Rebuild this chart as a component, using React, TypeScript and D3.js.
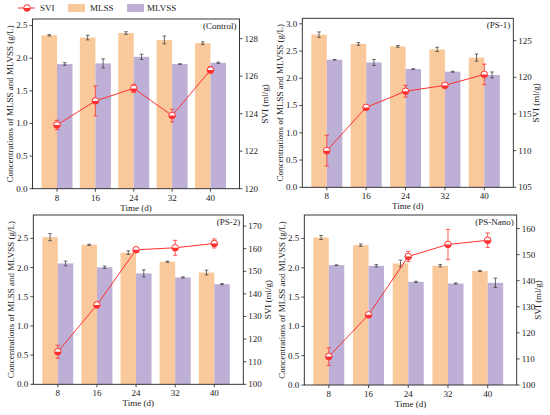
import React from 'react';
import * as d3 from 'd3';

const days = ['8', '16', '24', '32', '40'];

// Control
const mlssControl = [2.35, 2.315, 2.385, 2.28, 2.23];
const mlssControlErr = [0.01, 0.035, 0.02, 0.06, 0.02];
const mlvssControl = [1.91, 1.92, 2.02, 1.91, 1.93];
const mlvssControlErr = [0.02, 0.07, 0.04, 0.005, 0.01];
const sviControl = [123.4, 124.68, 125.35, 123.9, 126.33];
const sviControlErr = [0.25, 0.8, 0.22, 0.34, 0.18];

// PS-1
const mlssPs1 = [2.8, 2.63, 2.585, 2.53, 2.38];
const mlssPs1Err = [0.05, 0.025, 0.015, 0.04, 0.065];
const mlvssPs1 = [2.34, 2.29, 2.17, 2.12, 2.06];
const mlvssPs1Err = [0.005, 0.055, 0.005, 0.008, 0.055];
const sviPs1 = [110.0, 115.9, 118.1, 118.9, 120.4];
const sviPs1Err = [2.1, 0.2, 0.8, 0.3, 1.4];

// PS-2
const mlssPs2 = [2.52, 2.39, 2.255, 2.1, 1.915];
const mlssPs2Err = [0.06, 0.01, 0.03, 0.01, 0.04];
const mlvssPs2 = [2.07, 2.005, 1.9, 1.83, 1.715];
const mlvssPs2Err = [0.04, 0.02, 0.06, 0.01, 0.01];
const sviPs2 = [114.4, 135.1, 159.5, 160.4, 162.3];
const sviPs2Err = [2.9, 1.2, 0.5, 3.3, 2.0];

// PS-Nano
const mlssNano = [2.517, 2.386, 2.073, 2.035, 1.945];
const mlssNanoErr = [0.035, 0.02, 0.057, 0.02, 0.01];
const mlvssNano = [2.044, 2.033, 1.76, 1.731, 1.743];
const mlvssNanoErr = [0.005, 0.02, 0.01, 0.01, 0.08];
const sviNano = [110.9, 126.9, 149.3, 153.9, 155.5];
const sviNanoErr = [3.4, 0.5, 2.0, 5.8, 2.8];

const leftTicks1 = [0, 0.5, 1.0, 1.5, 2.0, 2.5];
const leftTicks2 = [0, 0.5, 1.0, 1.5, 2.0, 2.5, 3.0];
const rightTicksControl = [120, 122, 124, 126, 128];
const rightTicksPs1 = [105, 110, 115, 120, 125];
const rightTicksPs2 = [100, 110, 120, 130, 140, 150, 160, 170];
const rightTicksNano = [100, 110, 120, 130, 140, 150, 160];

const MLSS_COLOR = '#F9C99B';
const MLVSS_COLOR = '#BEAFD6';
const SVI_COLOR = '#FF3030';
const FONT = '"Liberation Serif", "Times New Roman", serif';

interface Panel {
  name: string;
  box: { left: number; right: number; top: number; bottom: number };
  leftDomain: [number, number];
  rightDomain: [number, number];
  leftTicks: number[];
  rightTicks: number[];
  mlss: number[]; mlssErr: number[];
  mlvss: number[]; mlvssErr: number[];
  svi: number[]; sviErr: number[];
  rightLabelOffset: number;
}

const panels: Panel[] = [
  {
    name: '(Control)', box: { left: 32.5, right: 239.5, top: 19, bottom: 188.7 },
    leftDomain: [0, 2.6], rightDomain: [120, 129.05], leftTicks: leftTicks1, rightTicks: rightTicksControl,
    mlss: mlssControl, mlssErr: mlssControlErr, mlvss: mlvssControl, mlvssErr: mlvssControlErr,
    svi: sviControl, sviErr: sviControlErr, rightLabelOffset: 26,
  },
  {
    name: '(PS-1)', box: { left: 302.3, right: 513.3, top: 18.3, bottom: 187.3 },
    leftDomain: [0, 3.1], rightDomain: [105, 128.05], leftTicks: leftTicks2, rightTicks: rightTicksPs1,
    mlss: mlssPs1, mlssErr: mlssPs1Err, mlvss: mlvssPs1, mlvssErr: mlvssPs1Err,
    svi: sviPs1, sviErr: sviPs1Err, rightLabelOffset: 23,
  },
  {
    name: '(PS-2)', box: { left: 33.3, right: 243.3, top: 215, bottom: 384.3 },
    leftDomain: [0, 2.9], rightDomain: [100, 174.9], leftTicks: leftTicks1, rightTicks: rightTicksPs2,
    mlss: mlssPs2, mlssErr: mlssPs2Err, mlvss: mlvssPs2, mlvssErr: mlvssPs2Err,
    svi: sviPs2, sviErr: sviPs2Err, rightLabelOffset: 25,
  },
  {
    name: '(PS-Nano)', box: { left: 304.3, right: 516.7, top: 215, bottom: 385 },
    leftDomain: [0, 2.9], rightDomain: [100, 165.2], leftTicks: leftTicks1, rightTicks: rightTicksNano,
    mlss: mlssNano, mlssErr: mlssNanoErr, mlvss: mlvssNano, mlvssErr: mlvssNanoErr,
    svi: sviNano, sviErr: sviNanoErr, rightLabelOffset: 21,
  },
];

const BAR_W = 15.5;

const Marker: React.FC<{ x: number; y: number; r?: number }> = ({ x, y, r = 3.3 }) => (
  <g transform={`translate(${x},${y})`}>
    <circle r={r} fill="#fff" stroke={SVI_COLOR} strokeWidth={1} />
    <path d={`M${-r},0 A${r},${r} 0 0 0 ${r},0 Z`} fill={SVI_COLOR} />
  </g>
);

const ChartPanel: React.FC<{ p: Panel }> = ({ p }) => {
  const { left, right, top, bottom } = p.box;
  const x = d3.scalePoint<string>().domain(days).range([left + 24.5, right - 29]);
  const sub = d3.scaleBand<string>().domain(['MLSS', 'MLVSS']).range([-BAR_W, BAR_W]);
  const yL = d3.scaleLinear().domain(p.leftDomain).range([bottom, top]);
  const yR = d3.scaleLinear().domain(p.rightDomain).range([bottom, top]);
  const line = d3.line<number>()
    .x((_, i) => x(days[i])!)
    .y(d => yR(d));
  const fmtL = d3.format('.1f');
  const midY = (top + bottom) / 2;

  const errBar = (cx: number, v: number, e: number, y: d3.ScaleLinear<number, number>, color: string, cap: number, key: string) => (
    <g key={key} stroke={color} strokeWidth={0.8}>
      <line x1={cx} x2={cx} y1={y(v - e)} y2={y(v + e)} />
      <line x1={cx - cap} x2={cx + cap} y1={y(v - e)} y2={y(v - e)} />
      <line x1={cx - cap} x2={cx + cap} y1={y(v + e)} y2={y(v + e)} />
    </g>
  );

  return (
    <g>
      {days.map((d, i) => (
        <g key={d}>
          <rect x={x(d)! + sub('MLSS')!} width={sub.bandwidth()} y={yL(p.mlss[i])} height={bottom - yL(p.mlss[i])} fill={MLSS_COLOR} />
          <rect x={x(d)! + sub('MLVSS')!} width={sub.bandwidth()} y={yL(p.mlvss[i])} height={bottom - yL(p.mlvss[i])} fill={MLVSS_COLOR} />
          {errBar(x(d)! + sub('MLSS')! + sub.bandwidth() / 2, p.mlss[i], p.mlssErr[i], yL, '#444', 1.8, 'a')}
          {errBar(x(d)! + sub('MLVSS')! + sub.bandwidth() / 2, p.mlvss[i], p.mlvssErr[i], yL, '#444', 1.8, 'b')}
        </g>
      ))}
      <path d={line(p.svi)!} fill="none" stroke={SVI_COLOR} strokeWidth={1} />
      {days.map((d, i) => errBar(x(d)!, p.svi[i], p.sviErr[i], yR, SVI_COLOR, 2.2, 'e' + d))}
      {days.map((d, i) => <Marker key={'m' + d} x={x(d)!} y={yR(p.svi[i])} />)}

      <rect x={left} y={top} width={right - left} height={bottom - top} fill="none" stroke="#222" strokeWidth={0.9} />

      <g fontFamily={FONT} fontSize={9} fill="#222">
        {p.leftTicks.map(t => (
          <g key={'l' + t}>
            <line x1={left - 3} x2={left} y1={yL(t)} y2={yL(t)} stroke="#222" strokeWidth={0.8} />
            <text x={left - 5} y={yL(t)} dy="0.33em" textAnchor="end">{fmtL(t)}</text>
          </g>
        ))}
        {p.rightTicks.map(t => (
          <g key={'r' + t}>
            <line x1={right} x2={right + 3} y1={yR(t)} y2={yR(t)} stroke="#222" strokeWidth={0.8} />
            <text x={right + 5} y={yR(t)} dy="0.33em" textAnchor="start">{t}</text>
          </g>
        ))}
        {days.map(d => (
          <g key={'x' + d}>
            <line x1={x(d)} x2={x(d)} y1={bottom} y2={bottom + 3} stroke="#222" strokeWidth={0.8} />
            <text x={x(d)} y={bottom + 12} textAnchor="middle">{d}</text>
          </g>
        ))}
        <text x={(left + right) / 2} y={bottom + 22} textAnchor="middle">Time (d)</text>
        <text transform={`translate(${left - 22.5},${midY}) rotate(-90)`} textAnchor="middle" dy="0.33em">
          Concentrations of MLSS and MLVSS (g/L)
        </text>
        <text transform={`translate(${right + p.rightLabelOffset},${midY}) rotate(-90)`} textAnchor="middle" dy="0.33em">
          SVI (ml/g)
        </text>
        <text x={right - 3} y={top + 10} textAnchor="end">{p.name}</text>
      </g>
    </g>
  );
};

const Legend: React.FC = () => (
  <g fontFamily={FONT} fontSize={9} fill="#222">
    <line x1={18} x2={35} y1={8} y2={8} stroke={SVI_COLOR} strokeWidth={1} />
    <Marker x={27} y={8} />
    <text x={40} y={8} dy="0.33em">SVI</text>
    <rect x={68} y={4} width={17} height={8} fill={MLSS_COLOR} />
    <text x={90} y={8} dy="0.33em">MLSS</text>
    <rect x={127} y={4} width={17} height={8} fill={MLVSS_COLOR} />
    <text x={147} y={8} dy="0.33em">MLVSS</text>
  </g>
);

export default function App() {
  return (
    <svg width={550} height={415} style={{ position: 'absolute', left: 0, top: 0, background: '#fff' }}>
      <rect width={550} height={415} fill="#fff" />
      {panels.map(p => <ChartPanel key={p.name} p={p} />)}
      <Legend />
    </svg>
  );
}
